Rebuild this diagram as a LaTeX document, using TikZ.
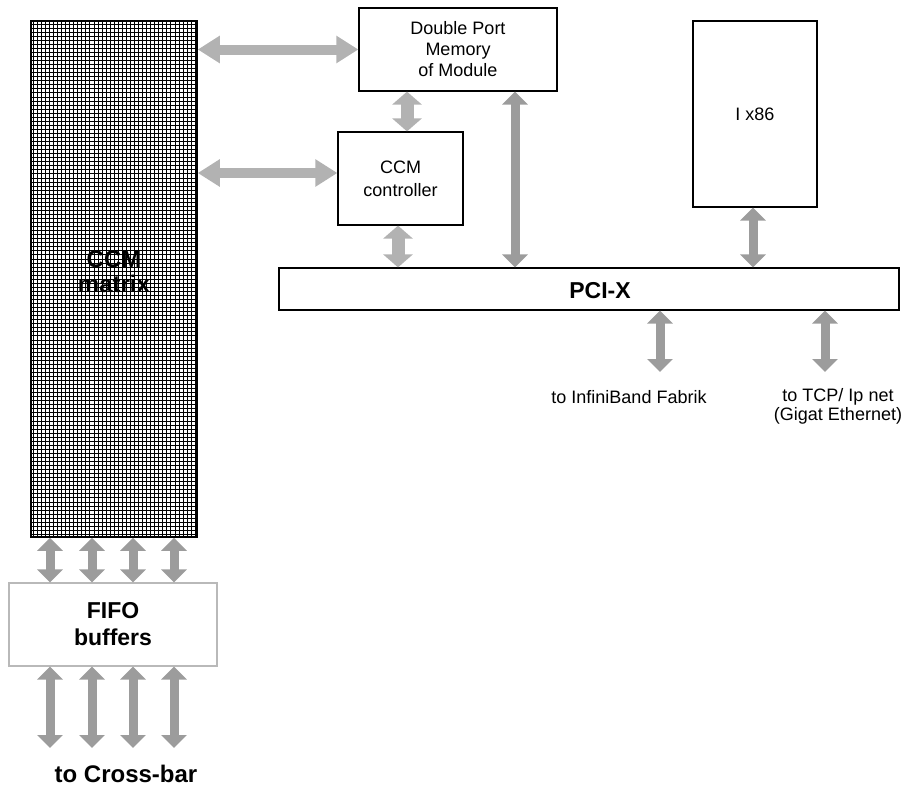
\documentclass[tikz,border=0pt]{standalone}
\usepackage{fontspec}
\setmainfont{Liberation Sans}
\usetikzlibrary{arrows.meta,positioning}
\definecolor{linkgray}{HTML}{B2B2B2}
\definecolor{busgray}{HTML}{9C9C9C}

\begin{document}
\begin{tikzpicture}[x=1pt, y=-1pt,
  box/.style={draw, line width=1.2pt, align=center, inner sep=0pt, font=\fontsize{18}{21}\selectfont},
  big/.style={align=center, inner sep=0pt, font=\fontsize{23}{26}\selectfont\bfseries},
  txt/.style={align=center, inner sep=0pt, font=\fontsize{18}{19}\selectfont},
  link/.style={{Triangle[length=22pt,width=26pt]}-{Triangle[length=22pt,width=26pt]}, line width=10pt, linkgray},
  stub/.style={{Triangle[length=13pt,width=29pt]}-{Triangle[length=13pt,width=29pt]}, line width=13pt, linkgray},
  bus/.style={{Triangle[length=13pt,width=25pt]}-{Triangle[length=13pt,width=25pt]}, line width=9pt, busgray},
]
\useasboundingbox (0,0) rectangle (907,787);

% CCM matrix with its grid
\node[draw, line width=1.5pt, minimum width=166pt, minimum height=516pt, inner sep=0pt,
  path picture={\draw[line width=0.45pt, step=4.05pt] (path picture bounding box.south west) grid (path picture bounding box.north east);}] (ccm) at (114,279) {};
\node[big, font=\fontsize{24}{25}\selectfont\bfseries] (ccmlab) at (114,272) {CCM\\matrix};

\node[box, minimum width=198pt, minimum height=83pt] (dpm) at (458,49.5) {Double Port\\Memory\\of Module};
\node[box, minimum width=125pt, minimum height=93pt, font=\fontsize{18}{23}\selectfont] (ctrl) at (400.5,178.5) {CCM\\controller};
\node[box, minimum width=124pt, minimum height=186pt] (cpu) at (755,114) {I x86};
\node[box, minimum width=620pt, minimum height=42pt] (pci) at (589,289) {};
\node[big] (pcilab) at (600,291) {PCI-X};

\node[box, draw=gray!55, minimum width=208pt, minimum height=83pt, font=\fontsize{23}{27}\selectfont\bfseries] (fifo) at (113,624.5) {FIFO\\buffers};

% free ends
\coordinate (ibend) at (660,372);
\coordinate (tcpend) at (825,372);
\coordinate (xbar) at (113,748);

\node[txt] (ib) at (629,397) {to InfiniBand Fabrik};
\node[txt] (tcp) at (838,406) {to TCP/ Ip net\\(Gigat Ethernet)};
\node[big, font=\fontsize{24}{26}\selectfont\bfseries] (xlab) at (126,774) {to Cross-bar};

\draw[link] (ccm.east |- dpm.west) -- (dpm.west);
\draw[link] (ccm.east |- 0,173) -- (ctrl.west |- 0,173);
\draw[stub] (dpm.south -| 407,0) -- (ctrl.north -| 407,0);
\draw[stub] (ctrl.south -| 398,0) -- (pci.north -| 398,0);
\draw[bus] (dpm.south -| 515,0) -- (pci.north -| 515,0);
\draw[bus] (cpu.south -| 753,0) -- (pci.north -| 753,0);
\draw[bus] (pci.south -| ibend) -- (ibend);
\draw[bus] (pci.south -| tcpend) -- (tcpend);
\foreach \x in {50,92,133,174} {
  \draw[bus] (ccm.south -| \x,0) -- (fifo.north -| \x,0);
  \draw[bus] (fifo.south -| \x,0) -- (xbar -| \x,0);
}
\end{tikzpicture}
\end{document}
